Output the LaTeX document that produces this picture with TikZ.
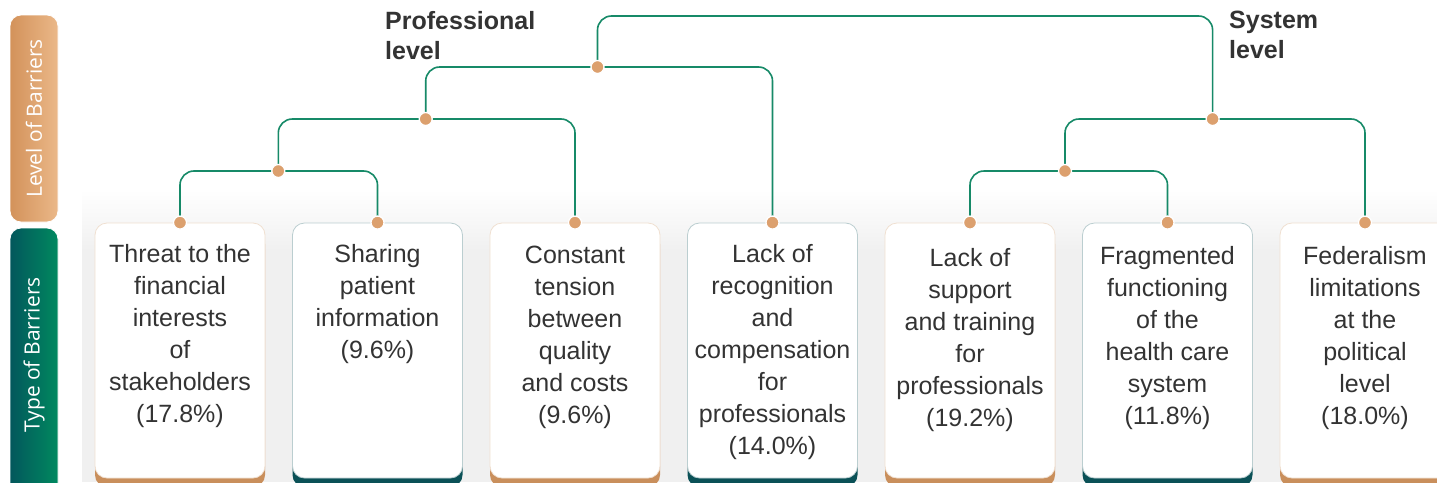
\documentclass[tikz,border=0pt]{standalone}
\usepackage{fontspec}
\setmainfont{Liberation Sans}
\newfontfamily\sidefont{Open Sans}
\usetikzlibrary{positioning}

\definecolor{lineGreen}{HTML}{178A68}
\definecolor{dotTan}{HTML}{DCA06E}
\definecolor{bandTan}{HTML}{C98F5C}
\definecolor{bandTeal}{HTML}{0B5157}
\definecolor{txtGray}{HTML}{333333}
\definecolor{sideTanL}{HTML}{D3925A}
\definecolor{sideTanR}{HTML}{EBB889}
\definecolor{sideTealL}{HTML}{03575C}
\definecolor{sideTealR}{HTML}{00895F}
\definecolor{glow}{HTML}{F0F0F0}

\newcommand\boxtext[1]{\parbox[c][255pt][t]{166pt}{\centering\vspace*{21pt}#1}}

\pgfdeclarelayer{bg}
\pgfsetlayers{bg,main}

\begin{document}
\begin{tikzpicture}[x=1pt, y=-1pt,
    link/.style = {draw=lineGreen, line width=1.6pt, rounded corners=14pt},
    dot/.style = {circle, fill=dotTan, draw=white, line width=1.3pt, minimum size=13pt, inner sep=0pt},
    barrier/.style = {draw=#1!28, fill=white, line width=0.8pt, rounded corners=12pt,
        minimum width=170pt, minimum height=255pt, inner sep=0pt, text=txtGray,
        font=\fontsize{25}{32}\selectfont,
        preaction={fill=#1, transform canvas={yshift=-9pt}}},
    side/.style = {draw=white, line width=0.8pt, rounded corners=11pt, minimum width=48pt},
    sidetxt/.style = {rotate=90, text=white, font=\sidefont\fontsize{21}{24}\selectfont},
    lvl/.style = {anchor=north west, align=left, text=txtGray, inner sep=0pt,
        font=\bfseries\fontsize{25}{30}\selectfont}]
    \clip (0,0) rectangle (1437,482);

    % side bars
    \node[side, left color=sideTanL, right color=sideTanR, minimum height=207pt] (lvlbar) at (34,118.5) {};
    \node[sidetxt] (lvltxt) at (lvlbar) {Level of Barriers};
    \node[side, left color=sideTealL, right color=sideTealR, minimum height=270pt] (typebar) at (34,363) {};
    \node[sidetxt] (typetxt) at (34,355) {Type of Barriers};

    % barrier boxes
    \node[barrier=bandTan] (b1) at (180,350.5) {\boxtext{Threat to the\\financial\\interests\\of\\stakeholders\\(17.8\%)}};
    \node[barrier=bandTeal, right=26.7pt of b1] (b2) {\boxtext{Sharing\\patient\\information\\(9.6\%)}};
    \node[barrier=bandTan, right=26.7pt of b2] (b3) {\boxtext{\vspace*{2pt}Constant\\tension\\between\\quality\\and costs\\(9.6\%)}};
    \node[barrier=bandTeal, right=26.7pt of b3] (b4) {\boxtext{Lack of\\recognition\\and\\compensation\\for\\professionals\\(14.0\%)}};
    \node[barrier=bandTan, right=26.7pt of b4] (b5) {\boxtext{\vspace*{4pt}Lack of\\support\\and training\\for\\professionals\\(19.2\%)}};
    \node[barrier=bandTeal, right=26.7pt of b5] (b6) {\boxtext{\vspace*{2pt}Fragmented\\functioning\\of the\\health care\\system\\(11.8\%)}};
    \node[barrier=bandTan, right=26.7pt of b6] (b7) {\boxtext{\vspace*{2pt}Federalism\\limitations\\at the\\political\\level\\(18.0\%)}};

    % dots
    \foreach \i in {1,...,7}
        \node[dot] (t\i) at (b\i.north) {};
    \node[dot] (j1) at (278.3,171) {};
    \node[dot] (j2) at (425.7,119) {};
    \node[dot] (j3) at (597.5,67) {};
    \node[dot] (j4) at (1065,171) {};
    \node[dot] (j5) at (1212.6,119) {};
    \coordinate (top) at (905,16);

    % tree
    \begin{pgfonlayer}{bg}
    \fill[white] (0,0) rectangle (1437,482);
    \shade[top color=white, bottom color=glow] (82,190) rectangle (1437,250);
    \fill[glow] (82,249) rectangle (1437,482);
    \draw[link] (t1.center) |- (j1.center) -| (t2.center);
    \draw[link] (j1.center) |- (j2.center) -| (t3.center);
    \draw[link] (j2.center) |- (j3.center) -| (t4.center);
    \draw[link] (t5.center) |- (j4.center) -| (t6.center);
    \draw[link] (j4.center) |- (j5.center) -| (t7.center);
    \draw[link] (j3.center) |- (top) -| (j5.center);
    \end{pgfonlayer}

    % level labels
    \node[lvl] (prof) at (385,11) {Professional\\level};
    \node[lvl] (sys) at (1229,11) {System\\level};
\end{tikzpicture}
\end{document}
